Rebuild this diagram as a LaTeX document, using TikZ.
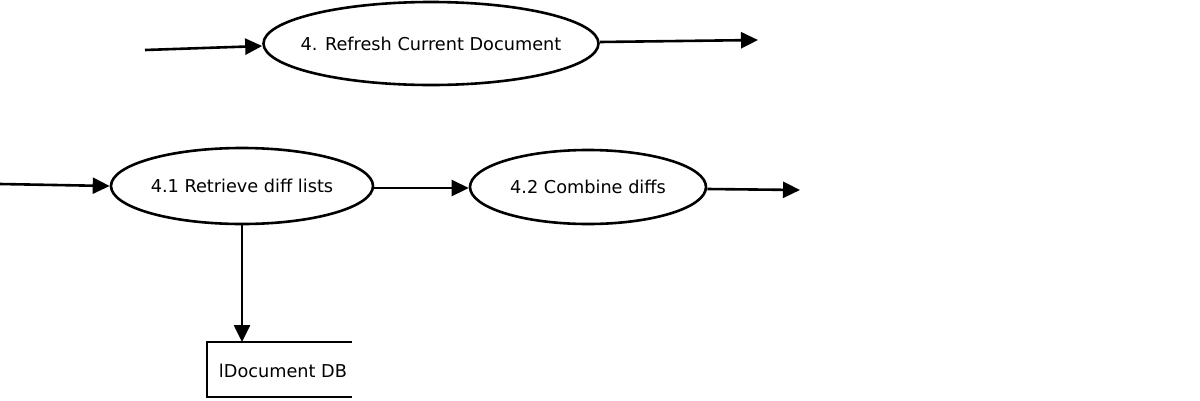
\documentclass[tikz,border=0pt]{standalone}
\usepackage{fontspec}
\setmainfont{DejaVu Sans}
\usetikzlibrary{shapes.geometric,arrows.meta}
\begin{document}
\begin{tikzpicture}[x=1pt,y=-1pt,
  proc/.style={draw,ellipse,line width=2.6pt,inner sep=0pt,inner xsep=-40pt,font=\fontsize{17.7}{20}\selectfont},
  flow/.style={line width=2.6pt,-{Triangle[length=17pt,width=16pt]}},
  lbl/.style={font=\fontsize{17.7}{20}\selectfont,inner sep=0pt}]
\useasboundingbox (0,0) rectangle (1200,400);
\node[proc,minimum width=335pt,minimum height=83pt] (p4) at (431,43.5) {4. Refresh Current Document};
\node[proc,minimum width=262pt,minimum height=76pt] (p41) at (242,186) {4.1 Retrieve diff lists};
\node[proc,minimum width=236pt,minimum height=74pt] (p42) at (588,187) {4.2 Combine diffs};
\coordinate (in4) at (145,50);
\coordinate (out4) at (758,40);
\coordinate (in41) at (0,184);
\coordinate (out42) at (800,190);
\coordinate (dbtop) at (242,342);
\node[lbl] (db) at (283,371) {lDocument DB};
\draw[line width=2.6pt] (352,342) -- (207,342) -- (207,397) -- (352,397);
\draw[flow] (in4) -- ([yshift=-2.5pt]p4.west);
\draw[flow] ([yshift=1.5pt]p4.east) -- (out4);
\draw[flow] (in41) -- (p41.west);
\draw[flow] ([yshift=-2pt]p41.east) -- ([yshift=-1pt]p42.west);
\draw[flow] ([yshift=-2pt]p42.east) -- (out42);
\draw[flow] (p41.south) -- (dbtop);
\end{tikzpicture}
\end{document}
